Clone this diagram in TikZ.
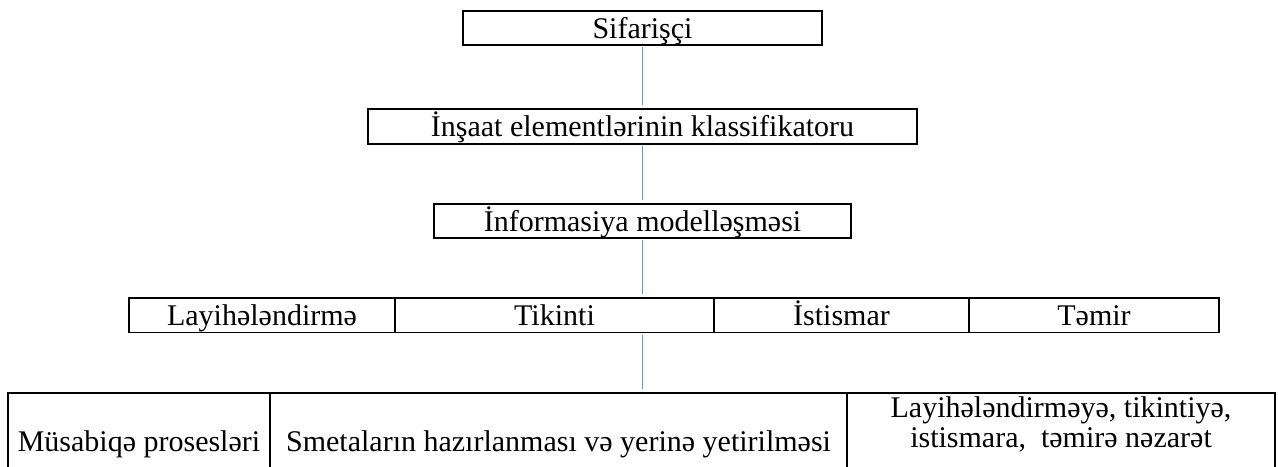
\documentclass[tikz,border=0pt]{standalone}
\usepackage{fontspec}
\setmainfont{Liberation Serif}
\usepackage{tikz}
\usetikzlibrary{positioning}
\definecolor{linkblue}{RGB}{91,155,213}

\begin{document}
\begin{tikzpicture}[x=0.5pt,y=-0.5pt,
  box/.style={draw,line width=0.8pt,inner sep=0pt,outer sep=0pt,minimum height=17.25pt,
    text height=12pt,text depth=2pt,font=\fontsize{15}{15}\selectfont},
  cell/.style={box,anchor=north west},
  link/.style={draw=linkblue,line width=0.55pt,shorten <=1pt,shorten >=2pt},
  node distance=30pt]
  \useasboundingbox (0,0) rectangle (1278,466);
  \clip (0,0) rectangle (1278,466);
  \node[box,minimum width=179.5pt] (sif) at (642.5,28) {Sifarişçi};
  \node[box,minimum width=274.5pt,below=32pt of sif] (klass) {İnşaat elementlərinin klassifikatoru};
  \node[box,minimum width=208.5pt,below=of klass] (model) {İnformasiya modelləşməsi};
  % merhele setri
  \node[cell,minimum width=133pt] (layih) at (129,298) {Layihələndirmə};
  \node[cell,minimum width=159.5pt,right=0pt of layih.north east,anchor=north west] (tik) {Tikinti};
  \node[cell,minimum width=127.5pt,right=0pt of tik.north east,anchor=north west] (ist) {İstismar};
  \node[cell,minimum width=125pt,right=0pt of ist.north east,anchor=north west] (temir) {Təmir};
  % alt setir
  \node[cell,minimum width=131pt,minimum height=48pt] (musab) at (8,393) {Müsabiqə prosesləri};
  \node[cell,minimum width=288.5pt,minimum height=48pt,right=0pt of musab.north east,anchor=north west] (smeta) {Smetaların hazırlanması və yerinə yetirilməsi};
  \node[cell,minimum width=214pt,minimum height=48pt,align=center,text height=26pt,text depth=20pt,
    right=0pt of smeta.north east,anchor=north west] (nezaret) {Layihələndirməyə, tikintiyə,\\ istismara,\ \ təmirə nəzarət};
  \path[link]
    (sif) edge (klass)
    (klass) edge (model)
    (model) edge (model |- tik.north)
    (tik.south -| model.south) edge (smeta.north -| model.south)
  ;
\end{tikzpicture}
\end{document}
